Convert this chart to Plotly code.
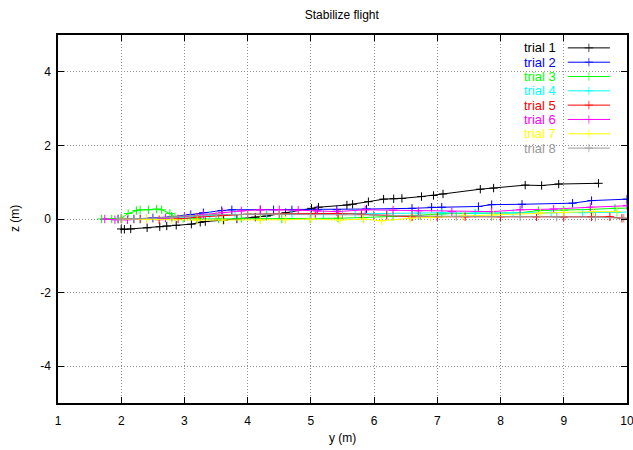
import plotly.graph_objects as go

# ---- data ----
names = ["trial 1", "trial 2", "trial 3", "trial 4", "trial 5", "trial 6", "trial 7", "trial 8"]
colors = ["#000000", "#0000ff", "#00ff00", "#00ffff", "#ff0000", "#ff00ff", "#ffff00", "#999999"]

y1 = [2.0, 2.05, 2.15, 2.41, 2.61, 2.72, 2.87, 3.11, 3.25, 3.33, 3.62, 3.83, 4.12, 4.3, 4.6, 5.01, 5.12, 5.57, 5.66, 5.91, 6.15, 6.31, 6.44, 6.75, 6.94, 7.09, 7.68, 7.89, 8.39, 8.65, 8.92, 9.55]
z1 = [-0.27, -0.28, -0.27, -0.24, -0.21, -0.19, -0.17, -0.14, -0.09, -0.07, -0.03, 0.0, 0.05, 0.08, 0.17, 0.29, 0.32, 0.38, 0.4, 0.47, 0.54, 0.55, 0.56, 0.61, 0.64, 0.68, 0.81, 0.84, 0.92, 0.91, 0.95, 0.97]

y2 = [1.95, 2.2, 2.5, 2.8, 3.1, 3.3, 3.59, 3.75, 4.2, 4.41, 4.7, 5.1, 5.41, 5.88, 6.6, 6.91, 7.07, 7.65, 7.86, 8.34, 9.14, 9.44, 10.0, 10.3]
z2 = [0.0, 0.0, 0.03, 0.06, 0.12, 0.17, 0.23, 0.25, 0.25, 0.25, 0.25, 0.25, 0.25, 0.27, 0.29, 0.32, 0.32, 0.34, 0.39, 0.40, 0.43, 0.50, 0.54, 0.56]

y3 = [1.69, 1.85, 2.0, 2.11, 2.24, 2.3, 2.43, 2.56, 2.64, 2.77, 2.85, 2.98, 3.2, 3.54, 3.9, 4.2, 4.54, 4.99, 5.43, 5.83, 6.3, 6.7, 7.07, 7.6, 8.31, 8.6, 9.0, 9.42, 9.81, 10.2]
z3 = [0.0, 0.0, 0.02, 0.15, 0.23, 0.25, 0.25, 0.27, 0.25, 0.15, 0.06, 0.02, 0.0, 0.0, 0.02, 0.0, 0.0, 0.0, 0.02, 0.04, 0.07, 0.1, 0.14, 0.15, 0.17, 0.23, 0.24, 0.26, 0.29, 0.3]

y4 = [2.0, 2.3, 2.7, 3.0, 3.4, 3.8, 4.3, 4.7, 5.2, 5.7, 6.2, 6.7, 7.07, 7.6, 8.2, 8.8, 9.3, 9.84, 10.2]
z4 = [0.0, 0.0, 0.02, 0.06, 0.1, 0.12, 0.13, 0.13, 0.14, 0.15, 0.15, 0.16, 0.17, 0.16, 0.16, 0.17, 0.17, 0.18, 0.2]

y5 = [2.0, 2.3, 2.6, 2.9, 3.2, 3.6, 4.0, 4.5, 5.07, 5.43, 5.8, 6.2, 6.6, 7.0, 7.44, 8.0, 8.57, 9.0, 9.44, 9.73, 9.92, 10.2]
z5 = [0.0, 0.0, -0.02, 0.0, 0.05, 0.1, 0.13, 0.14, 0.15, 0.15, 0.13, 0.1, 0.06, 0.06, 0.06, 0.06, 0.06, 0.05, 0.06, 0.06, 0.02, 0.01]

y6 = [1.74, 1.9, 2.1, 2.4, 2.7, 3.0, 3.3, 3.6, 3.9, 4.2, 4.5, 4.8, 5.1, 5.41, 5.86, 6.3, 6.7, 7.23, 7.86, 8.31, 8.84, 9.42, 10.0]
z6 = [0.0, -0.02, -0.02, 0.0, 0.03, 0.07, 0.12, 0.18, 0.22, 0.25, 0.25, 0.24, 0.22, 0.2, 0.25, 0.24, 0.22, 0.2, 0.2, 0.25, 0.27, 0.32, 0.36]

y7 = [2.0, 2.4, 2.8, 3.2, 3.6, 4.2, 4.6, 5.0, 5.46, 5.83, 6.12, 6.57, 6.89, 7.4, 7.89, 8.63, 9.0, 9.47, 9.84]
z7 = [0.0, 0.0, -0.02, -0.03, -0.03, -0.03, -0.02, 0.0, -0.03, 0.0, -0.05, 0.02, 0.05, 0.08, 0.11, 0.17, 0.18, 0.2, 0.2]

y8 = [1.95, 2.01, 2.2, 2.5, 2.8, 3.09, 3.5, 4.0, 4.5, 5.0, 5.5, 5.99, 6.73, 7.3, 7.86, 8.31, 8.89, 9.5, 9.95]
z8 = [0.0, 0.0, 0.0, 0.02, 0.05, 0.09, 0.12, 0.13, 0.13, 0.12, 0.12, 0.11, 0.08, 0.07, 0.06, 0.06, 0.05, 0.05, 0.02]

x_ticks = [1, 2, 3, 4, 5, 6, 7, 8, 9, 10]
z_ticks = [-4, -2, 0, 2, 4]

series_y = [y1, y2, y3, y4, y5, y6, y7, y8]
series_z = [z1, z2, z3, z4, z5, z6, z7, z8]

FONT = "Liberation Sans, Arial, sans-serif"

fig = go.Figure()
for name, col, ys, zs in zip(names, colors, series_y, series_z):
    fig.add_trace(go.Scatter(
        x=ys, y=zs, mode="lines+markers", name=name,
        line=dict(color=col, width=1),
        marker=dict(symbol="cross-thin", size=6, line=dict(color=col, width=1)),
        showlegend=False, cliponaxis=True,
    ))

# gnuplot-style key (text left of sample), drawn on an overlay axis in [0,1]
key_x0, key_x1, key_xm = 0.896, 0.970, 0.933
key_text_x = 0.878
key_y0, key_dy = 0.965, 0.0389
for i, (name, col) in enumerate(zip(names, colors)):
    yy = key_y0 - i * key_dy
    fig.add_trace(go.Scatter(
        x=[key_x0, key_xm, key_x1], y=[yy, yy, yy], xaxis="x2", yaxis="y2",
        mode="lines+markers", line=dict(color=col, width=1),
        marker=dict(symbol="cross-thin", size=[0, 6, 0], line=dict(color=col, width=1)),
        showlegend=False, hoverinfo="skip",
    ))
    fig.add_annotation(x=key_text_x, y=yy, xref="x2", yref="y2", text=name,
                       showarrow=False, xanchor="right", yanchor="middle",
                       font=dict(family=FONT, size=13, color=col))

# axis titles
fig.add_annotation(x=0.5, y=0, xref="paper", yref="paper", text="y (m)", showarrow=False,
                   xanchor="center", yanchor="middle", yshift=-35,
                   font=dict(family=FONT, size=12, color="black"))
fig.add_annotation(x=0, y=0.5, xref="paper", yref="paper", text="z (m)", showarrow=False,
                   xanchor="center", yanchor="middle", xshift=-43, textangle=-90,
                   font=dict(family=FONT, size=12, color="black"))

axis_common = dict(
    showline=True, linecolor="black", linewidth=1.5, mirror="allticks",
    ticks="inside", ticklen=6, tickcolor="black",
    showgrid=True, gridcolor="#909090", griddash="1px,2px", gridwidth=1,
    zeroline=False, tickfont=dict(family=FONT, size=12, color="black"),
    automargin=False, ticklabeloverflow="allow",
)

fig.update_layout(
    width=633, height=450,
    paper_bgcolor="white", plot_bgcolor="white",
    margin=dict(l=58, r=6, t=35, b=47, autoexpand=False),
    title=dict(text="Stabilize flight", x=0.540, xanchor="center", y=0.967, yanchor="middle",
               font=dict(family=FONT, size=12, color="black"), automargin=False),
    xaxis=dict(range=[1, 10.0005], tickvals=x_ticks, ticktext=[str(v) for v in x_ticks],
               ticklabelstandoff=6, **axis_common),
    yaxis=dict(range=[-5, 5], tickvals=z_ticks, ticktext=[str(v) for v in z_ticks],
               ticklabelstandoff=3, **axis_common),
    xaxis2=dict(range=[0, 1], overlaying="x", visible=False, fixedrange=True),
    yaxis2=dict(range=[0, 1], overlaying="y", visible=False, fixedrange=True),
    showlegend=False,
)

# remove the page's default body margin so the figure sits at the window origin
fig.write_html("out.html",
               config={"displayModeBar": False},
               post_script="document.body.style.margin='0';document.body.style.overflow='hidden';")
